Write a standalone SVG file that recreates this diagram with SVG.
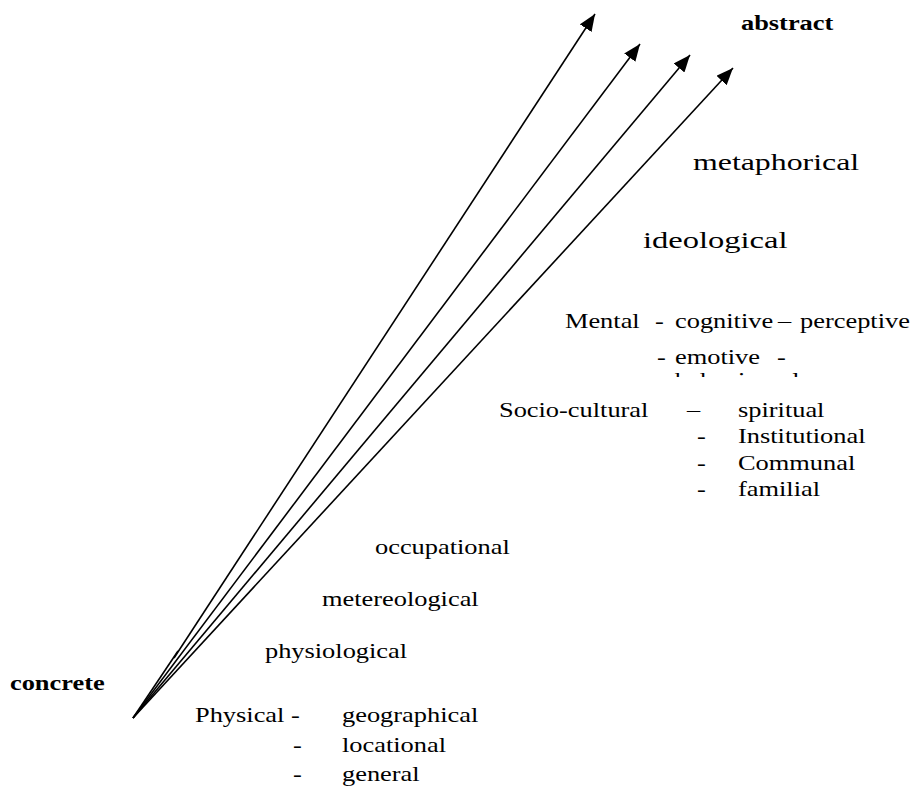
<svg xmlns="http://www.w3.org/2000/svg" width="918" height="792" viewBox="0 0 918 792">
<style>
text{font-family:"Liberation Serif","Times New Roman",serif;font-size:22px;fill:#000}
.b{font-weight:bold}
.lg{font-size:23.5px}
.arr{stroke:#000;stroke-width:1.6;fill:none;marker-end:url(#ah)}
</style>
<defs>
<marker id="ah" markerUnits="userSpaceOnUse" markerWidth="18" markerHeight="14" refX="17" refY="7" orient="auto">
<path d="M0,0 L17,7 L0,14 Z" fill="#000"/>
</marker>
<clipPath id="cl"><rect x="0" y="369" width="918" height="8"/></clipPath>
</defs>
<rect width="918" height="792" fill="#fff"/>
<g id="connectors">
<path d="M133 718 L178 651" stroke="#000" stroke-width="1.6" fill="none"/>
<path class="arr" d="M174 658 L595 14"/>
<path class="arr" d="M133 718 L640 44"/>
<path class="arr" d="M133 718 L690 55"/>
<path class="arr" d="M133 718 L733 68"/>
</g>
<g transform="scale(1.2 1)">
<g id="abstract"><text class="b" x="617.5" y="30">abstract</text></g>
<g id="metaphorical"><text class="lg" x="577.5" y="170" textLength="138.5" lengthAdjust="spacingAndGlyphs">metaphorical</text></g>
<g id="ideological"><text class="lg" x="535.8" y="248" textLength="120.5" lengthAdjust="spacingAndGlyphs">ideological</text></g>
<g id="mental">
<text x="470.8" y="328">Mental</text>
<text x="545.8" y="328">-</text>
<text x="562.5" y="328">cognitive</text>
<text x="648.3" y="328">–</text>
<text x="666.7" y="328">perceptive</text>
<text x="547.5" y="364">-</text>
<text x="562.5" y="364">emotive</text>
<text x="647.5" y="364">-</text>
<text x="562.5" y="387" clip-path="url(#cl)">behavioural</text>
</g>
<g id="socio-cultural">
<text x="415.8" y="417">Socio-cultural</text>
<text x="572.5" y="417">–</text>
<text x="615" y="417">spiritual</text>
<text x="580.8" y="443">-</text>
<text x="615" y="443">Institutional</text>
<text x="580.8" y="470">-</text>
<text x="615" y="470">Communal</text>
<text x="580.8" y="496">-</text>
<text x="615" y="496">familial</text>
</g>
<g id="occupational"><text x="312.5" y="554">occupational</text></g>
<g id="metereological"><text x="268.3" y="606">metereological</text></g>
<g id="physiological"><text x="220.8" y="658">physiological</text></g>
<g id="concrete"><text class="b" x="8.3" y="690">concrete</text></g>
<g id="physical">
<text x="162.5" y="722">Physical -</text>
<text x="285" y="722">geographical</text>
<text x="244.2" y="752">-</text>
<text x="285" y="752">locational</text>
<text x="244.2" y="781">-</text>
<text x="285" y="781">general</text>
</g>
</g>
</svg>
